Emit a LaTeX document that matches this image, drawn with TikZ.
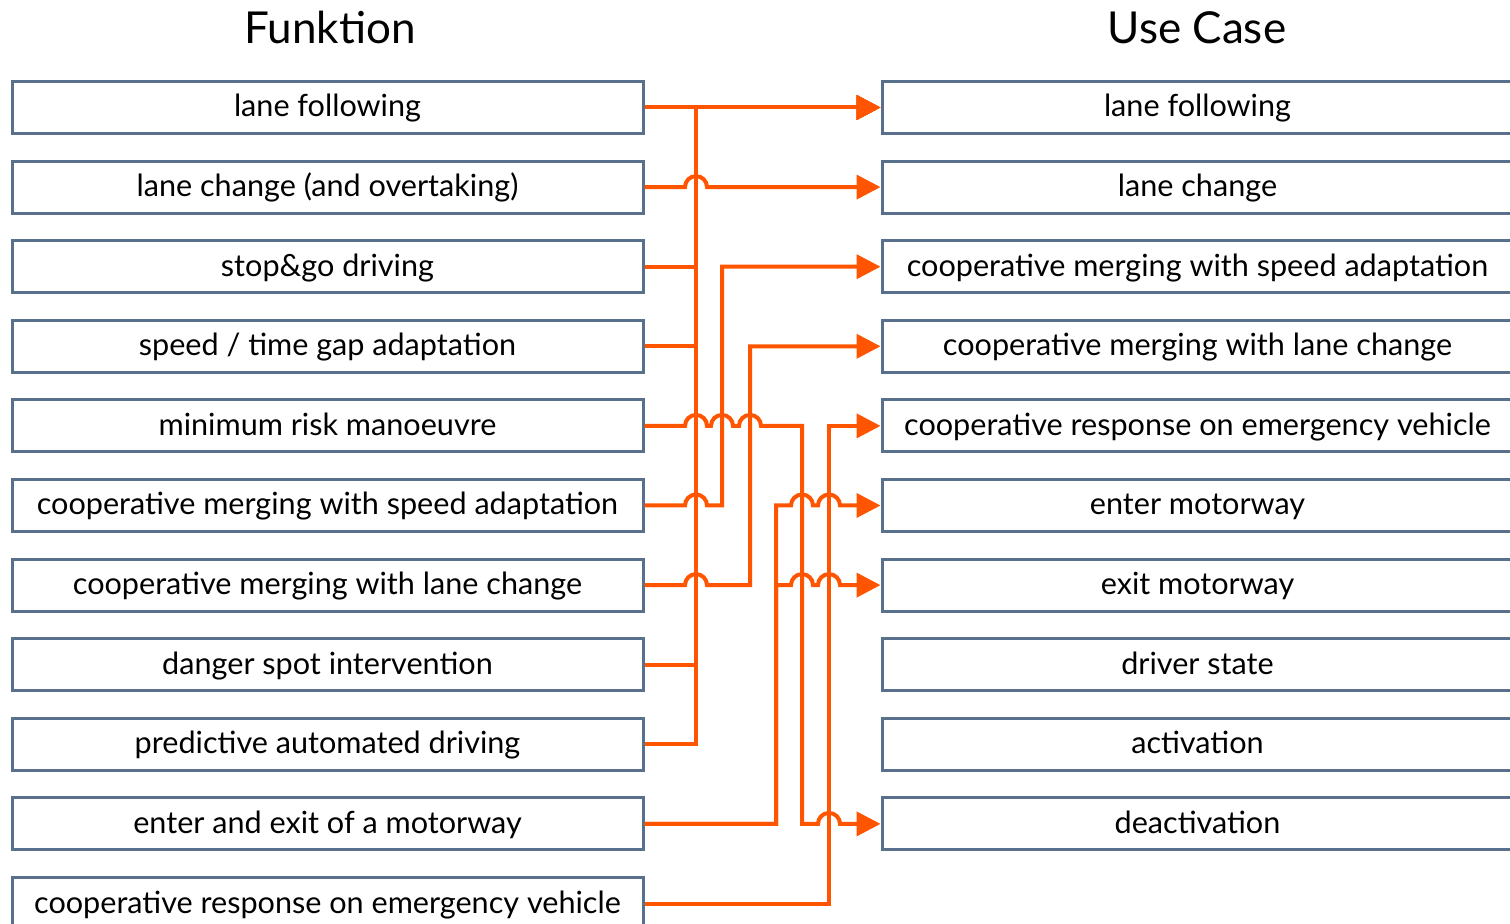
\documentclass[tikz,border=0pt]{standalone}
\usepackage{fontspec}
\setmainfont{Lato}
\usetikzlibrary{calc,arrows.meta}
\definecolor{slate}{RGB}{88,112,140}
\definecolor{signal}{RGB}{255,85,0}
\tikzstyle{fbox}=[draw=slate, line width=1.5pt, minimum width=315.5pt, minimum height=26pt, inner sep=0pt, text height=12pt, text depth=2.5pt, font=\fontsize{15.3}{18}\selectfont]
\tikzstyle{link}=[draw=signal, line width=2pt, line join=miter]
\tikzstyle{to}=[-{Triangle[length=12pt,width=12pt]}]
\tikzstyle{head}=[font=\fontsize{22}{26}\selectfont, anchor=base, inner sep=0pt]
\newcommand{\hr}{5.5pt}

\begin{document}
\begin{tikzpicture}[x=0.5pt, y=-0.5pt]
  \clip (0,0) rectangle (1510,924);
  \fill[white] (0,0) rectangle (1510,924);

  \node[head] (ftitle) at (330,44) {Funktion};
  \node[head] (utitle) at (1197,44) {Use Case};

  % left column: functions
  \foreach \txt [count=\i, evaluate=\i as \y using 107.5+(\i-1)*79.6] in
    {{lane following}, {lane change (and overtaking)}, {stop\&go driving},
     {speed / time gap adaptation}, {minimum risk manoeuvre},
     {cooperative merging with speed adaptation}, {cooperative merging with lane change},
     {danger spot intervention}, {predictive automated driving},
     {enter and exit of a motorway}, {cooperative response on emergency vehicle}}
    \node[fbox] (f\i) at (327.5,\y) {\txt};

  % right column: use cases
  \foreach \txt [count=\i, evaluate=\i as \y using 107.5+(\i-1)*79.6] in
    {{lane following}, {lane change}, {cooperative merging with speed adaptation},
     {cooperative merging with lane change}, {cooperative response on emergency vehicle},
     {enter motorway}, {exit motorway}, {driver state}, {activation}, {deactivation}}
    \node[fbox] (u\i) at (1197.5,\y) {\txt};

  % vertical wiring columns
  \coordinate (c1) at (696,0);
  \coordinate (c2) at (722,0);
  \coordinate (c3) at (750,0);
  \coordinate (c4) at (776,0);
  \coordinate (c5) at (802,0);
  \coordinate (c6) at (829,0);

  % bus into lane following
  \draw[link, to] (f1.east) -- (u1.west);
  \foreach \k in {3,4,8,9}
    \draw[link, to] (f\k.east) -| (c1 |- u1.west) -- (u1.west);

  \draw[link, to] (f2.east) -- ($(c1 |- f2.east)+(-\hr,0)$)
    arc[start angle=180, end angle=0, radius=\hr] -- (u2.west);

  \draw[link, to] (f6.east) -- ($(c1 |- f6.east)+(-\hr,0)$)
    arc[start angle=180, end angle=0, radius=\hr] -- (c2 |- f6.east) -- (c2 |- u3.west) -- (u3.west);

  \draw[link, to] (f7.east) -- ($(c1 |- f7.east)+(-\hr,0)$)
    arc[start angle=180, end angle=0, radius=\hr] -- (c3 |- f7.east) -- (c3 |- u4.west) -- (u4.west);

  \draw[link, to] (f5.east) -- ($(c1 |- f5.east)+(-\hr,0)$)
    arc[start angle=180, end angle=0, radius=\hr] -- ($(c2 |- f5.east)+(-\hr,0)$)
    arc[start angle=180, end angle=0, radius=\hr] -- ($(c3 |- f5.east)+(-\hr,0)$)
    arc[start angle=180, end angle=0, radius=\hr] -- (c5 |- f5.east) -- (c5 |- u10.west)
    -- ($(c6 |- u10.west)+(-\hr,0)$)
    arc[start angle=180, end angle=0, radius=\hr] -- (u10.west);

  \draw[link, to] (f11.east) -| (c6 |- u5.west) -- (u5.west);

  \foreach \k in {6,7}
    \draw[link, to] (f10.east) -| (c4 |- u\k.west) -- ($(c5 |- u\k.west)+(-\hr,0)$)
      arc[start angle=180, end angle=0, radius=\hr] -- ($(c6 |- u\k.west)+(-\hr,0)$)
      arc[start angle=180, end angle=0, radius=\hr] -- (u\k.west);
\end{tikzpicture}
\end{document}
